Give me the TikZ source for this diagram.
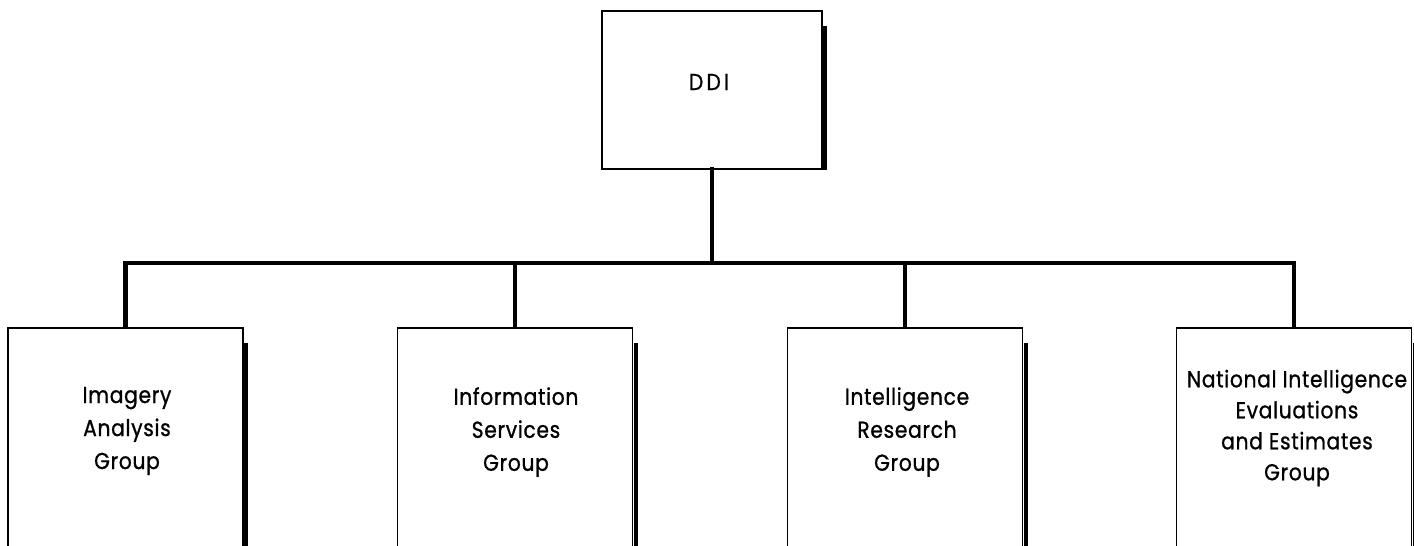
\documentclass[tikz,border=0pt]{standalone}
\usepackage{fontspec}
\setmainfont[LetterSpace=3, FakeStretch=0.88, FakeBold=0.9]{Poppins}
\newfontfamily\headfont[LetterSpace=14, FakeStretch=0.88, FakeBold=0.9]{Poppins}
\begin{document}
\begin{tikzpicture}[x=1pt,y=-1pt,
  unitbox/.style={draw=black, line width=1.6pt, fill=white, minimum width=235pt, inner sep=0pt},
  shade/.style={line width=4pt},
  link/.style={line width=4.5pt, line cap=rect},
  lbl/.style={align=center, font=\fontsize{23}{33}\selectfont, inner sep=0pt}]
\useasboundingbox (0,0) rectangle (1414,546);

% head office
\node[unitbox, minimum width=220pt, minimum height=158pt, anchor=north] (ddi) at (712,10) {};
\node[lbl, font=\headfont\fontsize{23}{32}\selectfont] (ddiT) at (709,82) {DDI};

% groups (boxes run off the bottom edge)
\foreach \n/\x in {ia/125.5, is/515, ir/905, ne/1294}{
  \node[unitbox, minimum height=240pt, anchor=north] (\n) at (\x,327) {};
}
\node[lbl] (iaT) at (127,431) {Imagery\\Analysis\\Group};
\node[lbl] (isT) at (516,432) {Information\\Services\\Group};
\node[lbl] (irT) at (907,432) {Intelligence\\Research\\Group};
\node[lbl, font=\fontsize{23}{31}\selectfont] (neT) at (1297,428) {National Intelligence\\Evaluations\\and Estimates\\Group};

% thick right-hand shadows
\draw[shade] ([xshift=2.5pt,yshift=-16pt]ddi.north east) -- ([xshift=2.5pt]ddi.south east);
\foreach \n in {ia,is,ir,ne}{
  \draw[shade] ([xshift=2.5pt,yshift=-16pt]\n.north east) -- ([xshift=2.5pt]\n.south east);
}

% connectors
\coordinate (bus) at (ddi.south |- 0,263);
\draw[link] (ddi.south) -- (bus);
\draw[link] (ia.north) |- (ne.north |- bus) -- (ne.north);
\draw[link] (is.north) -- (is.north |- bus);
\draw[link] (ir.north) -- (ir.north |- bus);
\end{tikzpicture}
\end{document}
